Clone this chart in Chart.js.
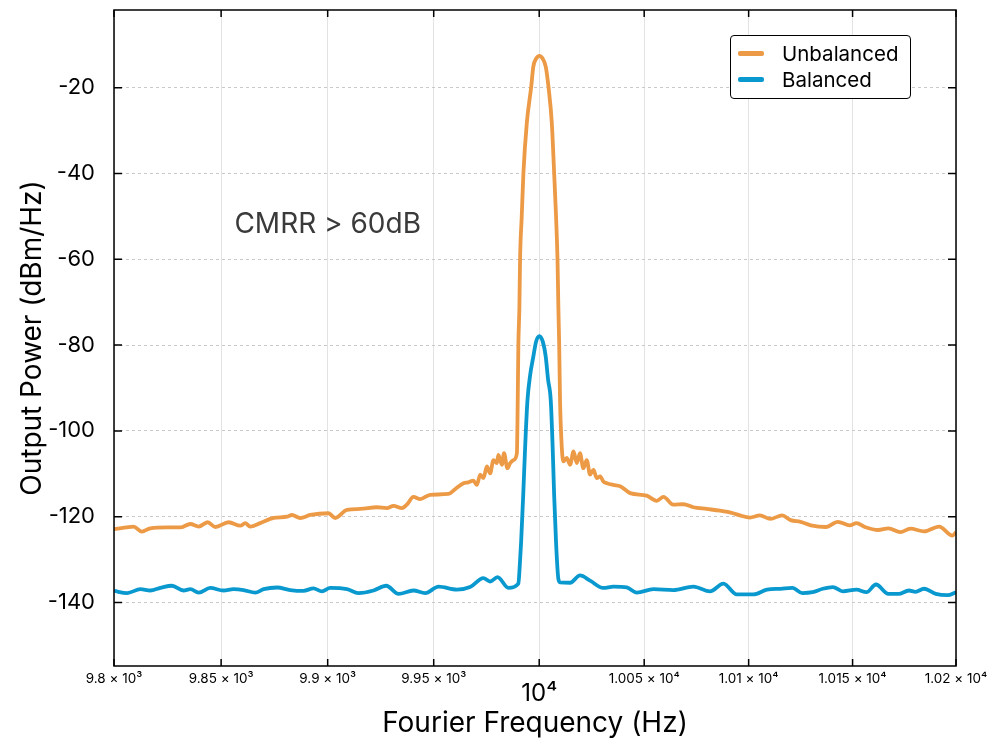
<!DOCTYPE html>
<html>
<head>
<meta charset="utf-8">
<script src="https://cdn.jsdelivr.net/npm/chart.js@4.4.1/dist/chart.umd.min.js"></script>
<style>
  html,body{margin:0;padding:0;background:#fff;}
  #wrap{position:relative;width:1000px;height:752px;}
  #legend{position:absolute;left:730px;top:35px;width:179px;height:62px;border:1.5px solid #000;border-radius:4px;background:#fff;font-family:Inter,"Noto Sans",sans-serif;font-size:20.5px;color:#000;}
  .row{position:absolute;left:0;height:24px;display:flex;align-items:center;}
  .sw{width:26px;height:5px;border-radius:2px;margin-left:7px;margin-right:18px;}
</style>
</head>
<body>
<div id="wrap">
  <canvas id="c" width="1000" height="752"></canvas>
  <div id="legend"></div>
</div>
<script>
// ---- data ----
const seriesNames = ['Unbalanced', 'Balanced'];
const seriesColors = ['#EC9A46', '#0A99CF'];

const unbalancedFreq = [9800.0,9805.7,9809.1,9813.0,9816.9,9824.7,9830.9,9835.6,9839.5,9843.7,9847.3,9853.5,9859.0,9861.3,9863.6,9868.3,9874.6,9880.9,9883.2,9887.1,9891.8,9900.4,9903.5,9909.1,9915.3,9923.2,9927.9,9931.0,9935.0,9937.3,9940.4,9943.6,9948.3,9957.0,9960.1,9964.1,9966.4,9968.8,9970.4,9972.0,9973.5,9975.2,9976.7,9978.3,9979.9,9980.6,9982.3,9983.3,9984.9,9986.2,9987.8,9989.4,9989.8,9990.1,9990.6,9990.9,9991.7,9992.5,9994.1,9996.2,9997.2,9998.6,10000.1,10001.6,10003.1,10004.4,10006.0,10007.1,10008.0,10008.7,10009.1,10009.5,10009.9,10010.7,10011.5,10013.1,10014.7,10016.3,10017.9,10019.4,10021.0,10022.6,10024.2,10025.8,10027.4,10029.0,10030.5,10032.2,10035.3,10038.5,10043.3,10051.2,10056.0,10059.2,10063.9,10068.7,10073.5,10079.9,10086.3,10092.6,10095.8,10100.6,10105.4,10110.4,10116.1,10120.2,10125.0,10129.9,10137.2,10142.9,10148.6,10151.9,10155.9,10162.4,10167.3,10173.1,10177.9,10184.5,10191.8,10198.3,10200.0];
const unbalancedPower = [-122.9,-122.5,-122.3,-123.5,-122.7,-122.5,-122.5,-121.7,-122.3,-121.3,-122.4,-121.3,-122.1,-121.5,-122.3,-121.5,-120.3,-120.0,-119.6,-120.3,-119.6,-119.2,-120.3,-118.4,-118.2,-117.8,-118.0,-117.5,-118.0,-117.2,-115.4,-115.9,-114.9,-114.7,-113.6,-112.2,-112.0,-111.6,-112.6,-110.2,-111.0,-108.3,-109.9,-106.8,-107.5,-105.6,-107.9,-105.2,-108.7,-107.5,-106.8,-105.2,-92.8,-80.0,-71.0,-60.2,-50.0,-39.9,-28.3,-19.8,-15.1,-13.2,-12.6,-13.2,-15.1,-19.8,-28.3,-39.9,-50.0,-60.2,-71.0,-80.0,-92.8,-103.6,-107.1,-106.3,-107.9,-104.8,-107.5,-105.2,-108.7,-106.8,-110.2,-109.1,-111.0,-110.6,-111.8,-112.2,-112.6,-112.9,-114.5,-115.1,-116.3,-115.4,-117.2,-117.1,-117.8,-118.2,-118.6,-119.2,-119.7,-120.2,-119.7,-120.5,-119.7,-120.8,-121.2,-122.0,-122.4,-121.2,-122.0,-121.5,-122.4,-123.1,-122.7,-123.6,-122.8,-123.4,-122.3,-124.4,-123.6];

const balancedFreq = [9800.0,9806.1,9812.3,9816.9,9821.6,9827.0,9832.4,9835.6,9839.5,9844.9,9851.1,9855.8,9860.5,9866.0,9869.9,9876.2,9882.4,9888.6,9893.3,9897.3,9901.2,9909.1,9914.5,9921.6,9927.6,9933.4,9940.4,9946.0,9952.3,9961.0,9967.2,9973.5,9976.7,9980.2,9985.4,9990.1,9990.7,9991.4,9992.4,9993.3,9994.4,9995.7,9997.2,9998.5,10000.1,10001.7,10003.1,10004.2,10005.5,10006.4,10007.1,10008.0,10009.1,10009.9,10014.7,10019.4,10024.2,10030.5,10035.3,10041.7,10046.5,10054.4,10063.9,10073.5,10081.5,10087.9,10094.3,10102.3,10108.8,10115.3,10121.0,10125.8,10130.7,10135.6,10140.5,10145.3,10151.9,10156.7,10161.3,10167.3,10172.2,10177.2,10180.4,10184.5,10190.2,10195.9,10200.0];
const balancedPower = [-137.3,-137.8,-136.9,-137.2,-136.6,-136.1,-137.2,-136.9,-137.7,-136.6,-137.2,-136.9,-137.1,-137.7,-136.9,-136.5,-137.1,-137.3,-136.7,-137.4,-136.6,-136.9,-137.8,-137.2,-136.1,-138.0,-137.2,-137.8,-136.3,-137.0,-136.4,-134.3,-135.1,-134.1,-136.6,-135.6,-132.0,-126.0,-115.0,-104.0,-93.0,-87.0,-82.7,-79.2,-77.9,-79.2,-82.7,-88.0,-93.0,-104.0,-115.0,-126.0,-134.5,-135.3,-135.4,-133.7,-134.9,-136.6,-136.3,-136.5,-137.7,-136.9,-137.1,-136.3,-137.4,-135.6,-138.1,-138.1,-137.0,-136.8,-136.6,-137.8,-137.6,-136.8,-136.4,-137.4,-137.0,-137.6,-135.8,-138.0,-138.0,-137.2,-137.5,-136.8,-138.0,-138.3,-137.6];

const xTicks = [9800, 9850, 9900, 9950, 10000, 10050, 10100, 10150, 10200];
const xTickLabels = ['9.8 × 10³','9.85 × 10³','9.9 × 10³','9.95 × 10³','10⁴','1.005 × 10⁴','1.01 × 10⁴','1.015 × 10⁴','1.02 × 10⁴'];
const yTicks = [-20, -40, -60, -80, -100, -120, -140];
const xRange = [9800, 10200];
const yRange = [-154.8, -1.9];
const annotationText = 'CMRR > 60dB';
const annotationPos = [9900, -52];
const xTitle = 'Fourier Frequency (Hz)';
const yTitle = 'Output Power (dBm/Hz)';

// ---- build ----
const FONT = 'Inter, "Noto Sans", "DejaVu Sans", sans-serif';
const toPts = (xs, ys) => xs.map((v, i) => ({x: v, y: ys[i]}));

const framePlugin = {
  id: 'frame',
  afterDatasetsDraw(chart) {
    const {ctx, chartArea: a, scales: {x, y}} = chart;
    ctx.save();
    ctx.fillStyle = '#3a3a3a';
    ctx.font = '28px ' + FONT;
    ctx.textAlign = 'center';
    ctx.textBaseline = 'middle';
    ctx.fillText(annotationText, x.getPixelForValue(annotationPos[0]), y.getPixelForValue(annotationPos[1]));
    ctx.strokeStyle = '#000';
    ctx.lineWidth = 1.5;
    ctx.beginPath();
    xTicks.forEach(v => {
      const p = x.getPixelForValue(v);
      ctx.moveTo(p, a.bottom); ctx.lineTo(p, a.bottom - 7);
      ctx.moveTo(p, a.top); ctx.lineTo(p, a.top + 7);
    });
    yTicks.forEach(v => {
      const p = y.getPixelForValue(v);
      ctx.moveTo(a.left, p); ctx.lineTo(a.left + 8, p);
      ctx.moveTo(a.right, p); ctx.lineTo(a.right - 8, p);
    });
    ctx.stroke();
    ctx.strokeRect(a.left, a.top, a.right - a.left, a.bottom - a.top);
    ctx.restore();
  }
};

new Chart(document.getElementById('c'), {
  type: 'line',
  data: {
    datasets: [
      {label: seriesNames[0], data: toPts(unbalancedFreq, unbalancedPower), borderColor: seriesColors[0], borderWidth: 3.8, pointRadius: 0, cubicInterpolationMode: 'monotone', fill: false},
      {label: seriesNames[1], data: toPts(balancedFreq, balancedPower), borderColor: seriesColors[1], borderWidth: 3.8, pointRadius: 0, cubicInterpolationMode: 'monotone', fill: false}
    ]
  },
  options: {
    responsive: false,
    devicePixelRatio: 1,
    animation: false,
    layout: {padding: {top: 10, right: 44, left: 0, bottom: 0}},
    plugins: {legend: {display: false}, tooltip: {enabled: false}},
    scales: {
      x: {
        type: 'logarithmic',
        min: xRange[0], max: xRange[1],
        afterBuildTicks: s => { s.ticks = xTicks.map(v => ({value: v})); },
        afterFit: s => { s.height = 86; s.paddingLeft = 0; s.paddingRight = 0; },
        grid: {color: '#e3e3e3', lineWidth: 1, drawTicks: false},
        border: {display: false},
        ticks: {
          autoSkip: false, maxRotation: 0, padding: 5, color: '#000',
          callback: (v, i) => xTickLabels[i],
          font: c => (c.tick && c.tick.value === 10000) ? {family: FONT, size: 24, lineHeight: '46px'} : {family: FONT, size: 13.5, lineHeight: '16px'}
        },
        title: {display: true, text: xTitle, color: '#000', font: {family: FONT, size: 28}, padding: {top: 12, bottom: 12}}
      },
      y: {
        type: 'linear',
        min: yRange[0], max: yRange[1],
        afterBuildTicks: s => { s.ticks = yTicks.map(v => ({value: v})); },
        afterFit: s => { s.width = 114; s.paddingTop = 0; s.paddingBottom = 0; },
        grid: {color: '#c9c9c9', lineWidth: 1, drawTicks: false},
        border: {display: false, dash: [3, 3]},
        ticks: {padding: 19, color: '#000', font: {family: FONT, size: 22}, callback: v => String(v)},
        title: {display: true, text: yTitle, color: '#000', font: {family: FONT, size: 28}, padding: {top: 16, bottom: 16}}
      }
    }
  },
  plugins: [framePlugin]
});

const lg = document.getElementById('legend');
seriesNames.forEach((n, i) => {
  const r = document.createElement('div');
  r.className = 'row';
  r.style.top = (5 + i * 26.6) + 'px';
  const sw = document.createElement('div');
  sw.className = 'sw';
  sw.style.background = seriesColors[i];
  const t = document.createElement('span');
  t.textContent = n;
  r.appendChild(sw); r.appendChild(t);
  lg.appendChild(r);
});
</script>
</body>
</html>
